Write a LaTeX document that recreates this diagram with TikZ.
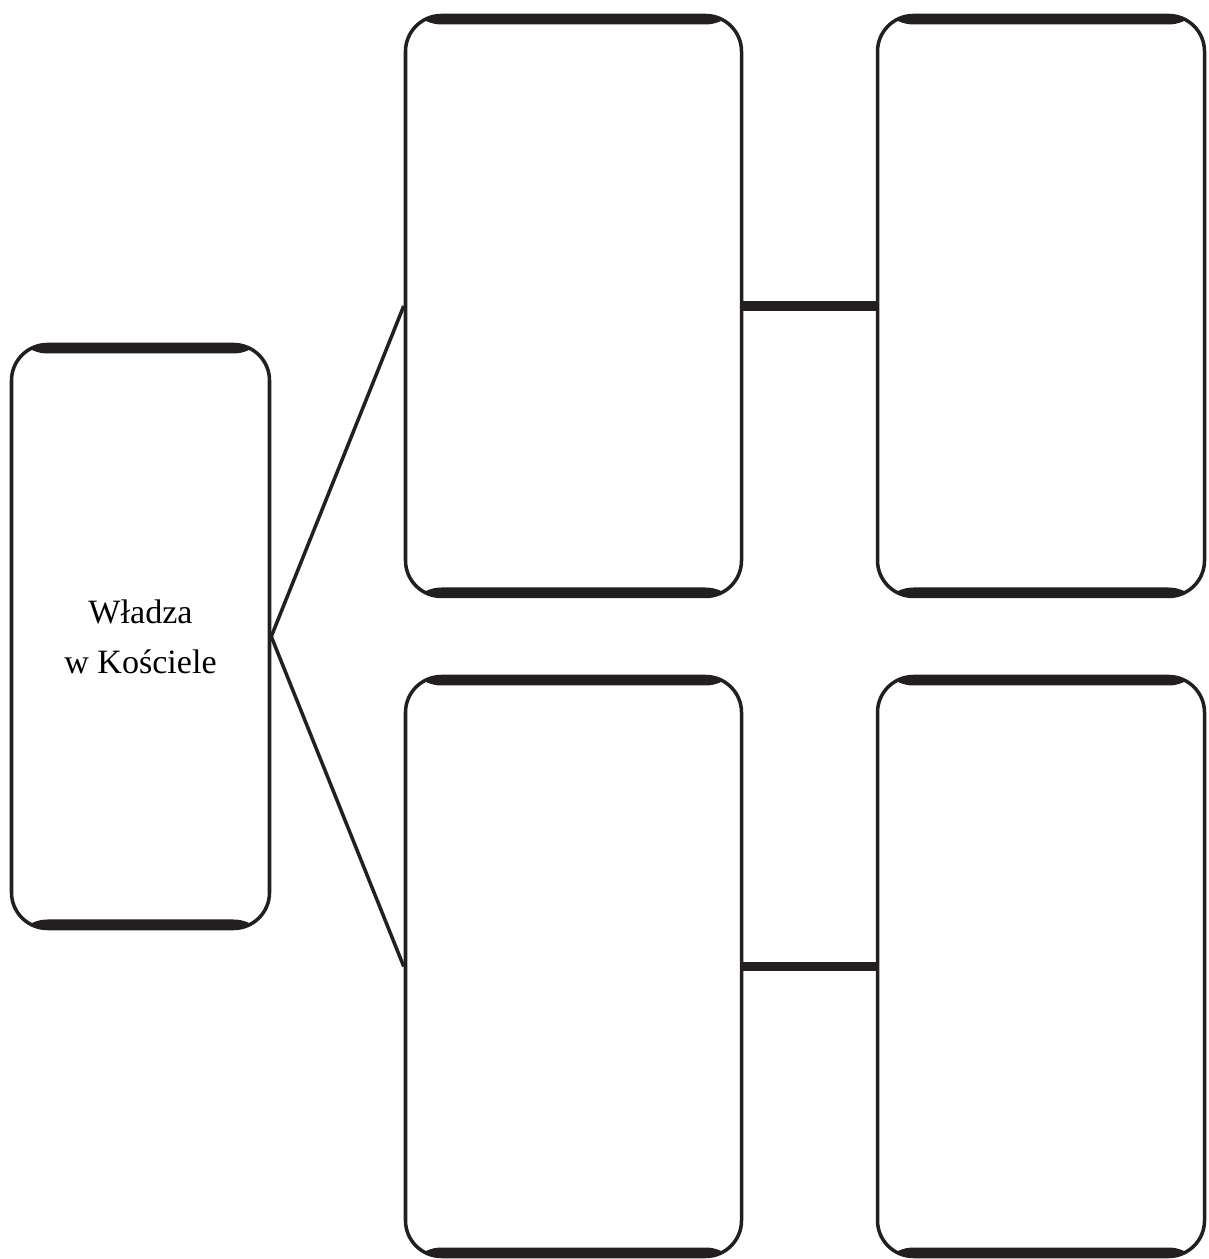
\documentclass[tikz,border=0pt]{standalone}
\usepackage{fontspec}
\setmainfont{Liberation Serif}
\definecolor{ink}{HTML}{231F20}
\begin{document}
\begin{tikzpicture}[font=\fontsize{9.7}{14.2}\selectfont,
  card/.style={draw=ink,line width=1pt,rounded corners=0.36cm,inner sep=0pt,align=center,
    path picture={
      \fill[ink] (path picture bounding box.north west) rectangle ([yshift=-0.09cm]path picture bounding box.north east);
      \fill[ink] (path picture bounding box.south west) rectangle ([yshift=0.09cm]path picture bounding box.south east);}},
  link/.style={draw=ink,line width=1pt},
  bar/.style={draw=ink,line width=2.6pt}]
\useasboundingbox (0,0) rectangle (12.08,12.59);
\node[card,minimum width=2.58cm,minimum height=5.84cm] (wladza) at (1.405,6.225) {Władza\\w Kościele};
\node[card,minimum width=3.36cm,minimum height=5.81cm] (upA) at (5.735,9.53) {};
\node[card,minimum width=3.36cm,minimum height=5.80cm] (lowA) at (5.735,2.925) {};
\node[card,minimum width=3.27cm,minimum height=5.81cm] (upB) at (10.41,9.53) {};
\node[card,minimum width=3.27cm,minimum height=5.80cm] (lowB) at (10.41,2.925) {};
% connectors
\draw[link] (wladza.east) -- (upA.west);
\draw[link] (wladza.east) -- (lowA.west);
\draw[bar] (upA.east) -- (upB.west);
\draw[bar] (lowA.east) -- (lowB.west);
\end{tikzpicture}
\end{document}
